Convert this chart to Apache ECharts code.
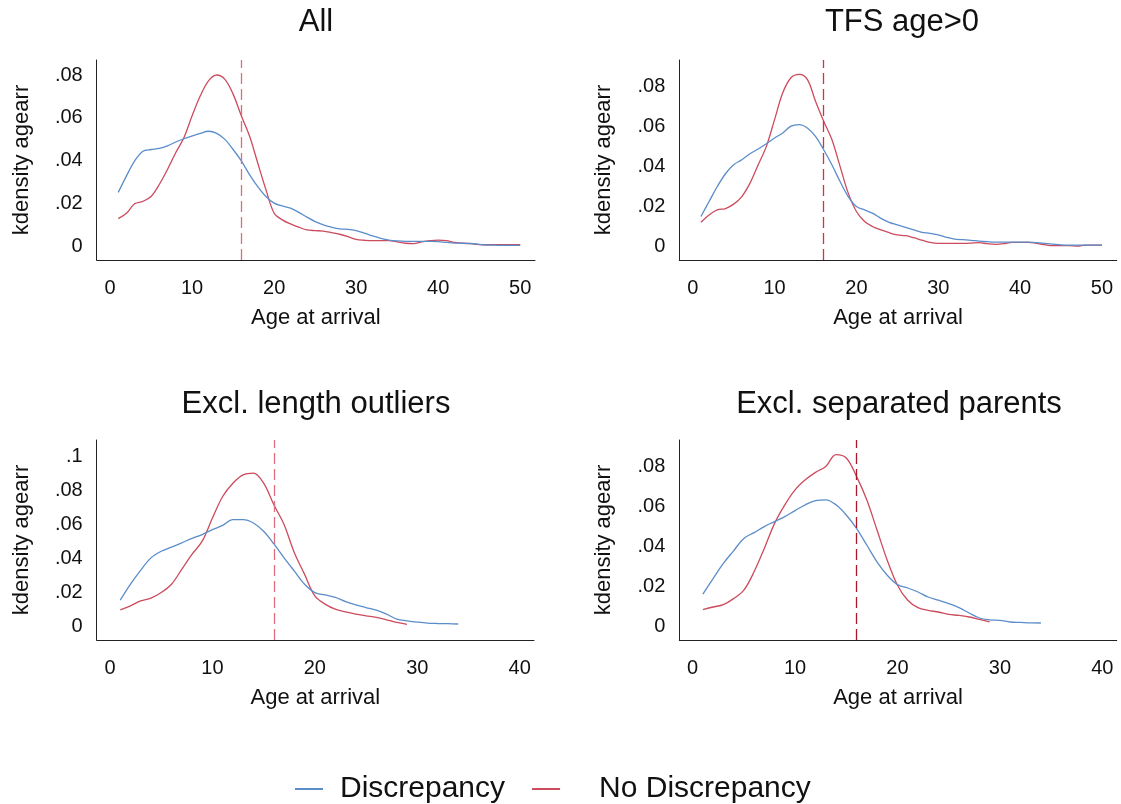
<!DOCTYPE html>
<html>
<head>
<meta charset="utf-8">
<title>kdensity agearr</title>
<script src="https://cdn.jsdelivr.net/npm/echarts@6/dist/echarts.min.js"></script>
<style>
  html, body { margin: 0; padding: 0; background: #ffffff; }
  #chart { width: 1121px; height: 804px; }
</style>
</head>
<body>
<div id="chart"></div>
<script>
// Panel titles and legend names
const panelTitles = ['All', 'TFS age>0', 'Excl. length outliers', 'Excl. separated parents'];
const seriesNames = ['Discrepancy', 'No Discrepancy'];

// Tick values
const xTicksWide = [0, 10, 20, 30, 40, 50];
const xTicksNarrow = [0, 10, 20, 30, 40];
const yTicksA = [0, 0.02, 0.04, 0.06, 0.08];
const yTicksB = [0, 0.02, 0.04, 0.06, 0.08, 0.1];

// Age 16 reference line
const cutoffAges = [16, 16, 16, 16];

// Kernel density estimates of age at arrival (evaluated at ages 1, 2, 3, ...)
const allDisc = [0.0253, 0.033, 0.040, 0.0445, 0.0453, 0.0458, 0.047, 0.0488, 0.0503, 0.0516,
  0.0528, 0.0538, 0.0528, 0.050, 0.0453, 0.040, 0.0336, 0.028, 0.0234, 0.0203,
  0.019, 0.018, 0.016, 0.0138, 0.0117, 0.0102, 0.0091, 0.0083, 0.0081, 0.0075,
  0.0063, 0.005, 0.0039, 0.0031, 0.0027, 0.0025, 0.0025, 0.0025, 0.0025, 0.0024,
  0.002, 0.0017, 0.0016, 0.0015, 0.0011, 0.0008, 0.0007, 0.0006, 0.0006, 0.0006];
const allNoDisc = [0.0131, 0.0156, 0.020, 0.0211, 0.0234, 0.029, 0.036, 0.0438, 0.0508, 0.061,
  0.0703, 0.0773, 0.080, 0.078, 0.0711, 0.061, 0.0516, 0.039, 0.0266, 0.0156,
  0.0125, 0.0106, 0.0091, 0.0078, 0.0075, 0.0073, 0.0066, 0.0058, 0.0047, 0.0034,
  0.003, 0.0028, 0.0028, 0.0028, 0.0022, 0.0016, 0.0014, 0.0022, 0.0028, 0.0031,
  0.0028, 0.002, 0.0016, 0.0014, 0.001, 0.0009, 0.0009, 0.0009, 0.0009, 0.0009];

const tfsDisc = [0.0151, 0.0226, 0.0301, 0.0365, 0.041, 0.0435, 0.0465, 0.0489, 0.0515, 0.0544,
  0.0569, 0.0603, 0.0611, 0.0594, 0.0552, 0.0485, 0.041, 0.0326, 0.0251, 0.0201,
  0.0184, 0.0167, 0.0142, 0.0122, 0.0109, 0.0097, 0.0084, 0.0072, 0.0067, 0.0059,
  0.0047, 0.0038, 0.0035, 0.0032, 0.0028, 0.0025, 0.0023, 0.0023, 0.0023, 0.0023,
  0.0023, 0.002, 0.0017, 0.0013, 0.0009, 0.0008, 0.0008, 0.0008, 0.0008, 0.0008];
const tfsNoDisc = [0.0122, 0.0159, 0.0184, 0.0191, 0.0213, 0.0251, 0.0318, 0.041, 0.0502, 0.0636,
  0.077, 0.0845, 0.0862, 0.0837, 0.0728, 0.0628, 0.0536, 0.0402, 0.0268, 0.0176,
  0.0126, 0.010, 0.0084, 0.007, 0.0059, 0.0055, 0.0045, 0.0033, 0.0022, 0.0017,
  0.0017, 0.0017, 0.0017, 0.0018, 0.002, 0.0015, 0.0012, 0.0015, 0.0022, 0.0022,
  0.0022, 0.0017, 0.001, 0.0005, 0.0005, 0.0005, 0.0003, 0.0008, 0.0008, 0.0008];

const lenDisc = [0.0156, 0.025, 0.0333, 0.0405, 0.0444, 0.0468, 0.0493, 0.0519, 0.0542, 0.0571,
  0.0596, 0.063, 0.063, 0.061, 0.0561, 0.0487, 0.0405, 0.0327, 0.025, 0.0201,
  0.0187, 0.0172, 0.0148, 0.0129, 0.0113, 0.0097, 0.0074, 0.0045, 0.0035, 0.0027,
  0.0021, 0.0019, 0.0018, 0.0016];
const lenNoDisc = [0.0099, 0.0123, 0.0152, 0.0168, 0.0201, 0.025, 0.0337, 0.0425, 0.0503, 0.0639,
  0.0766, 0.0844, 0.0893, 0.0903, 0.0844, 0.0717, 0.060, 0.0435, 0.0308, 0.0181,
  0.0133, 0.0103, 0.0088, 0.0074, 0.0064, 0.0055, 0.0041, 0.0025, 0.0014];

const sepDisc = [0.0161, 0.0239, 0.0315, 0.0378, 0.044, 0.0469, 0.0499, 0.0524, 0.0549, 0.0579,
  0.0608, 0.0629, 0.0633, 0.0608, 0.0557, 0.049, 0.0407, 0.0323, 0.0256, 0.0209,
  0.0192, 0.0172, 0.0147, 0.0131, 0.0114, 0.0094, 0.0067, 0.0042, 0.0033, 0.003,
  0.0022, 0.002, 0.0018, 0.0017];
const sepNoDisc = [0.0084, 0.0097, 0.0109, 0.0139, 0.0181, 0.0273, 0.039, 0.0515, 0.0608, 0.0683,
  0.0733, 0.077, 0.080, 0.0859, 0.0842, 0.075, 0.0633, 0.0482, 0.0331, 0.0206,
  0.0131, 0.0094, 0.008, 0.0072, 0.006, 0.0055, 0.0047, 0.0035, 0.0023];

const BLUE = '#5b8dcb';
const RED = '#cc4b5d';
const AXIS = '#222222';
const cutoffColors = ['#d9707f', '#d23246', '#d9707f', '#a8192d'];

// Panel layout (pixels) and axis ranges
const panels = [
  { grid: { left: 96.7, top: 60, width: 438.3, height: 200 }, x: [-1.63, 51.8], y: [-0.0062, 0.0870], xt: xTicksWide, yt: yTicksA, d: [allDisc, allNoDisc], cx: 316, cy: 22 },
  { grid: { left: 679.3, top: 60, width: 437.4, height: 200 }, x: [-1.64, 51.8], y: [-0.00665, 0.0934], xt: xTicksWide, yt: yTicksA, d: [tfsDisc, tfsNoDisc], cx: 902, cy: 22 },
  { grid: { left: 96.7, top: 440, width: 437.3, height: 200 }, x: [-1.3, 41.4], y: [-0.0078, 0.1098], xt: xTicksNarrow, yt: yTicksB, d: [lenDisc, lenNoDisc], cx: 316, cy: 404 },
  { grid: { left: 679.3, top: 440, width: 437.4, height: 200 }, x: [-1.3, 41.4], y: [-0.0068, 0.0932], xt: xTicksNarrow, yt: yTicksA, d: [sepDisc, sepNoDisc], cx: 899, cy: 404 }
];

const FONT = 'Liberation Sans, Arial, Helvetica, sans-serif';

function yFmt(v) {
  if (v === 0) return '0';
  return v.toFixed(2).replace(/^0/, '').replace(/0+$/, '');
}

const grids = [], xAxes = [], yAxes = [], series = [], graphics = [];

panels.forEach((p, i) => {
  grids.push(Object.assign({ containLabel: false }, p.grid));
  xAxes.push({
    type: 'value', gridIndex: i, min: p.x[0], max: p.x[1],
    name: 'Age at arrival', nameLocation: 'middle', nameGap: 47,
    nameTextStyle: { fontSize: 22, color: '#111', fontFamily: FONT },
    axisLine: { show: true, onZero: false, lineStyle: { color: AXIS, width: 1 } },
    axisTick: { show: false },
    splitLine: { show: false },
    axisLabel: { customValues: p.xt, margin: 18, fontSize: 20, color: '#111', fontFamily: FONT }
  });
  yAxes.push({
    type: 'value', gridIndex: i, min: p.y[0], max: p.y[1],
    name: 'kdensity agearr', nameLocation: 'middle', nameGap: 64,
    nameTextStyle: { fontSize: 22, color: '#111', fontFamily: FONT },
    axisLine: { show: true, onZero: false, lineStyle: { color: AXIS, width: 1 } },
    axisTick: { show: false },
    splitLine: { show: false },
    axisLabel: { customValues: p.yt, margin: 14, fontSize: 20, color: '#111', fontFamily: FONT, formatter: yFmt }
  });
  p.d.forEach((vals, k) => {
    const s = {
      name: seriesNames[k], type: 'line', xAxisIndex: i, yAxisIndex: i,
      data: vals.map((v, j) => [j + 1, v]),
      showSymbol: false, symbol: 'none', smooth: 0.35,
      lineStyle: { color: k === 0 ? BLUE : RED, width: 1.3 },
      itemStyle: { color: k === 0 ? BLUE : RED },
      z: k === 0 ? 3 : 2
    };
    if (k === 1) {
      s.markLine = {
        silent: true, symbol: 'none', label: { show: false },
        lineStyle: { color: cutoffColors[i], type: [11, 5], width: 1.3 },
        data: [{ xAxis: cutoffAges[i] }]
      };
    }
    series.push(s);
  });
  graphics.push({
    type: 'text', x: p.cx, y: p.cy,
    style: { text: panelTitles[i], fontSize: 31, fill: '#111', fontFamily: FONT, textAlign: 'center', textVerticalAlign: 'middle' }
  });
});

const chart = echarts.init(document.getElementById('chart'), null, { renderer: 'canvas' });
chart.setOption({
  animation: false,
  backgroundColor: '#ffffff',
  grid: grids,
  xAxis: xAxes,
  yAxis: yAxes,
  series: series,
  graphic: graphics,
  legend: {
    left: 290, top: 769,
    itemWidth: 28, itemHeight: 2, itemGap: 27,
    icon: 'rect',
    textStyle: { fontSize: 30, color: '#111', fontFamily: FONT, padding: [0, 0, 0, 12] },
    data: [
      { name: seriesNames[0], itemStyle: { color: BLUE } },
      { name: seriesNames[1], itemStyle: { color: RED }, textStyle: { padding: [0, 0, 0, 34] } }
    ]
  }
});
</script>
</body>
</html>
